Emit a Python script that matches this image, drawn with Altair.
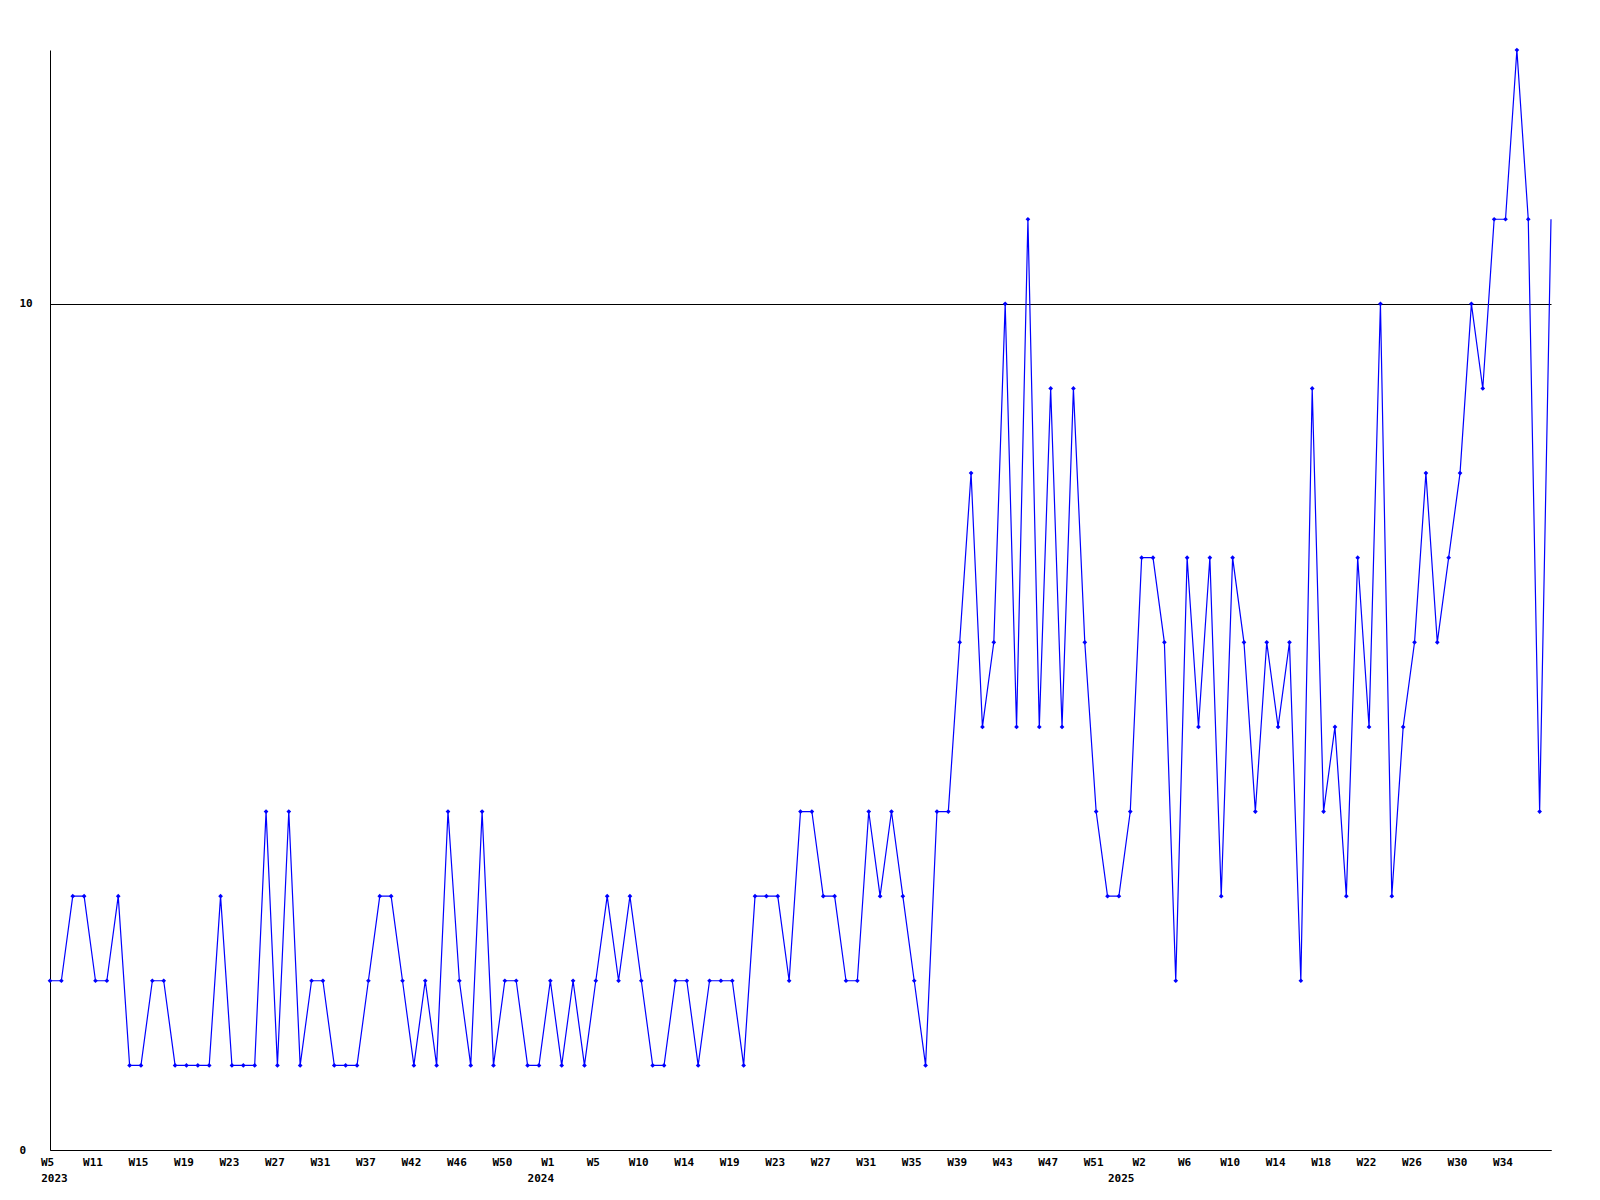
import altair as alt
import pandas as pd

# Week labels (x categories), their years, and the weekly values
weeks = [
    "W5", "W6", "W8", "W9", "W11", "W12", "W13", "W14", "W15", "W16", "W17", "W18",
    "W19", "W20", "W21", "W22", "W23", "W24", "W25", "W26", "W27", "W28", "W29", "W30",
    "W31", "W32", "W34", "W35", "W37", "W38", "W39", "W40", "W42", "W43", "W44", "W45",
    "W46", "W47", "W48", "W49", "W50", "W52", "W53",
    "W0", "W1", "W2", "W3", "W4", "W5", "W6", "W7", "W9", "W10", "W11", "W12", "W13",
    "W14", "W15", "W16", "W18", "W19", "W20", "W21", "W22", "W23", "W24", "W25", "W26",
    "W27", "W28", "W29", "W30", "W31", "W32", "W33", "W34", "W35", "W36", "W37", "W38",
    "W39", "W40", "W41", "W42", "W43", "W44", "W45", "W46", "W47", "W48", "W49", "W50",
    "W51", "W52",
    "W0", "W1", "W2", "W3", "W4", "W5", "W6", "W7", "W8", "W9", "W10", "W11", "W12",
    "W13", "W14", "W15", "W16", "W17", "W18", "W19", "W20", "W21", "W22", "W23", "W24",
    "W25", "W26", "W27", "W28", "W29", "W30", "W31", "W32", "W33", "W34", "W35", "W36",
    "W37", "W38",
]
years = [2023] * 43 + [2024] * 51 + [2025] * 39

values = [
    2, 2, 3, 3, 2, 2, 3, 1, 1, 2, 2, 1, 1, 1, 1, 3, 1, 1, 1, 4,
    1, 4, 1, 2, 2, 1, 1, 1, 2, 3, 3, 2, 1, 2, 1, 4, 2, 1, 4, 1,
    2, 2, 1, 1, 2, 1, 2, 1, 2, 3, 2, 3, 2, 1, 1, 2, 2, 1, 2, 2,
    2, 1, 3, 3, 3, 2, 4, 4, 3, 3, 2, 2, 4, 3, 4, 3, 2, 1, 4, 4,
    6, 8, 5, 6, 10, 5, 11, 5, 9, 5, 9, 6, 4, 3, 3, 4, 7, 7, 6, 2,
    7, 5, 7, 3, 7, 6, 4, 6, 5, 6, 2, 9, 4, 5, 3, 7, 5, 10, 3, 5,
    6, 8, 6, 7, 8, 10, 9, 11, 11, 13, 11, 4, 11,
]

n = len(values)
df = pd.DataFrame({
    "idx": list(range(n)),
    "week": weeks[:n],
    "year": years[:n],
    "value": values,
})

# Week tick labels: every 4th week (last point left unlabeled)
tick_idx = list(range(0, n - 4, 4))
week_expr = "[" + ",".join('"%s"' % weeks[i] for i in tick_idx) + "][round(datum.value / 4)]"

# Year labels: under the first labeled tick of each year
year_idx = []
prev_year = None
for i in tick_idx:
    if years[i] != prev_year:
        year_idx.append(i)
    prev_year = years[i]
year_expr = (
    "{" + ",".join('"%d":"%d"' % (i, years[i]) for i in year_idx) + "}[datum.value]"
)

FONT = "DejaVu Sans Mono"
BLUE = "#0000FF"
DOMAIN = [0, n - 1]

common_label = dict(
    labelFont=FONT,
    labelFontWeight="bold",
    labelFontSize=11,
    labelColor="black",
    labelAlign="center",
    labelBaseline="top",
    labelOverlap=False,
    labelBound=False,
    labelFlush=False,
    title=None,
    grid=False,
    ticks=False,
    tickSize=0,
)

x_week = alt.X(
    "idx:Q",
    scale=alt.Scale(domain=DOMAIN, nice=False, zero=False),
    axis=alt.Axis(
        values=tick_idx,
        labelExpr=week_expr,
        orient="bottom",
        domain=True,
        domainColor="black",
        domainWidth=1,
        labelPadding=6,
        labelOffset=-3,
        **common_label,
    ),
)
x_year = alt.X(
    "idx:Q",
    scale=alt.Scale(domain=DOMAIN, nice=False, zero=False),
    axis=alt.Axis(
        values=year_idx,
        labelExpr=year_expr,
        orient="bottom",
        domain=False,
        labelPadding=22,
        labelOffset={
            "condition": [
                {"test": "datum.value == %d" % year_idx[0], "value": 4},
                {"test": "datum.value == %d" % year_idx[1], "value": -10},
            ],
            "value": -21,
        },
        **common_label,
    ),
)
y_enc = alt.Y(
    "value:Q",
    scale=alt.Scale(domain=[0, 13], nice=False, zero=True),
    axis=alt.Axis(
        values=[0, 10],
        title=None,
        grid=True,
        gridColor="black",
        gridWidth=1,
        gridOpacity=1,
        ticks=False,
        tickSize=0,
        domain=True,
        domainColor="black",
        domainWidth=1,
        labelFont=FONT,
        labelFontWeight="bold",
        labelFontSize=11,
        labelColor="black",
        labelAlign="left",
        labelBaseline="middle",
        labelPadding=31,
    ),
)

line = alt.Chart(df).mark_line(color=BLUE, strokeWidth=1.2).encode(x=x_week, y=y_enc)
points = (
    alt.Chart(df)
    .transform_filter(alt.datum.idx < n - 1)
    .mark_point(shape="diamond", filled=True, color=BLUE, size=22, opacity=1)
    .encode(x=x_week, y=y_enc)
)
year_layer = (
    alt.Chart(df)
    .mark_point(opacity=0)
    .encode(x=x_year, y=y_enc)
)

chart = (
    alt.layer(alt.layer(line, points), year_layer)
    .resolve_scale(x="independent")
    .resolve_axis(x="independent")
    .properties(
        width=1501,
        height=1100,
        padding={"left": 42, "top": 42, "right": 20, "bottom": 40},
        autosize=alt.AutoSizeParams(type="none"),
        background="white",
    )
    .configure_view(stroke=None)
)

chart.save("out.html", embed_options={"renderer": "svg", "actions": False})
